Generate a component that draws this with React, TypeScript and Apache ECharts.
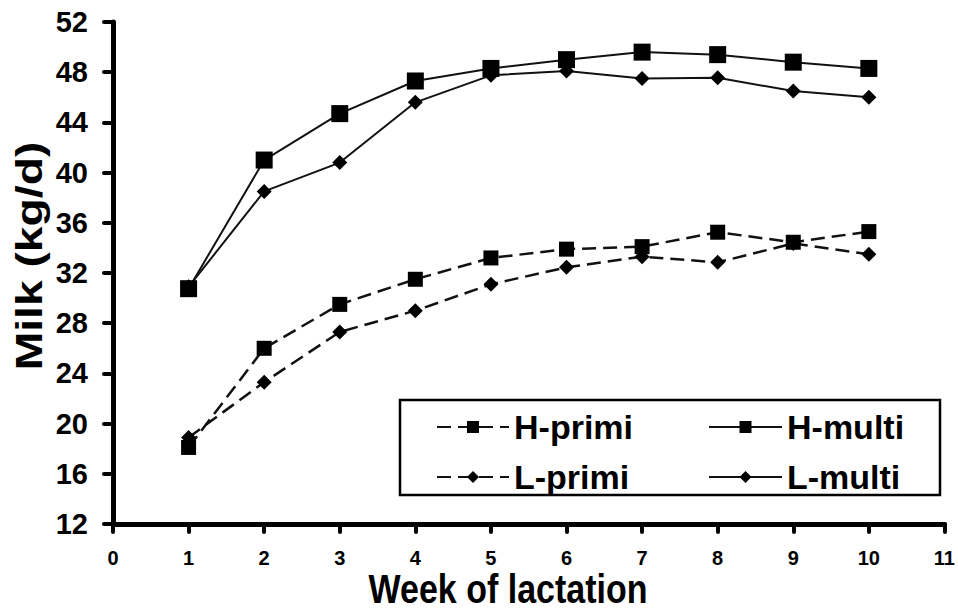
import React, { useEffect, useRef } from "react";
import * as echarts from "echarts";

const weeks = [1, 2, 3, 4, 5, 6, 7, 8, 9, 10];
const hPrimi = [18.1, 26.0, 29.5, 31.5, 33.2, 33.9, 34.1, 35.25, 34.45, 35.3];
const lPrimi = [18.9, 23.3, 27.3, 29.0, 31.1, 32.45, 33.3, 32.85, 34.35, 33.5];
const hMulti = [30.75, 41.0, 44.7, 47.3, 48.3, 49.0, 49.6, 49.4, 48.8, 48.3];
const lMulti = [30.9, 38.5, 40.8, 45.6, 47.75, 48.1, 47.5, 47.55, 46.5, 46.0];
const xTicks = { min: 0, max: 11, interval: 1 };
const yTicks = { min: 12, max: 52, interval: 4 };
const xTitle = "Week of lactation";
const yTitle = "Milk (kg/d)";

const FONT = 'Arial, "Liberation Sans", sans-serif';

const pairs = (vals: number[]) => weeks.map((w, i) => [w, vals[i]]);

export default function App() {
  const ref = useRef<HTMLDivElement>(null);
  useEffect(() => {
    if (!ref.current) return;
    const chart = echarts.init(ref.current, undefined, { renderer: "svg" });
    const legendText = { fontSize: 34, fontWeight: "bold", fontFamily: FONT, color: "#000", lineHeight: 30 };
    chart.setOption({
      animation: false,
      backgroundColor: "#fff",
      grid: { left: 113, right: 13, top: 22, bottom: 92, containLabel: false },
      xAxis: {
        type: "value",
        min: xTicks.min,
        max: xTicks.max,
        interval: xTicks.interval,
        axisLine: { lineStyle: { color: "#000", width: 5 } },
        axisTick: { length: 8, lineStyle: { color: "#000", width: 4, cap: "round" } },
        axisLabel: { margin: 24, fontSize: 20, fontWeight: "bold", fontFamily: FONT, color: "#000" },
        splitLine: { show: false },
      },
      yAxis: {
        type: "value",
        min: yTicks.min,
        max: yTicks.max,
        interval: yTicks.interval,
        axisLine: { lineStyle: { color: "#000", width: 5 } },
        axisTick: { length: 9, lineStyle: { color: "#000", width: 4, cap: "round" } },
        axisLabel: { margin: 25, fontSize: 29, fontWeight: "bold", fontFamily: FONT, color: "#000" },
        splitLine: { show: false },
      },
      legend: [
        {
          data: ["H-primi", "L-primi"],
          orient: "vertical",
          left: 436,
          top: 410,
          padding: 0,
          itemWidth: 72,
          itemHeight: 15,
          itemGap: 16,
          textStyle: legendText,
        },
        {
          data: ["H-multi", "L-multi"],
          orient: "vertical",
          left: 708,
          top: 410,
          padding: 0,
          itemWidth: 73,
          itemHeight: 15,
          itemGap: 16,
          textStyle: legendText,
        },
      ],
      graphic: [
        {
          type: "rect",
          shape: { x: 400, y: 400, width: 540, height: 95 },
          style: { fill: "#fff", stroke: "#000", lineWidth: 2.5 },
          z: 0,
        },
        {
          type: "text",
          x: 29,
          y: 256,
          rotation: Math.PI / 2,
          scaleX: 1.25,
          style: {
            text: yTitle,
            fontSize: 37,
            fontWeight: "bold",
            fontFamily: FONT,
            fill: "#000",
            align: "center",
            verticalAlign: "middle",
          },
        },
        {
          type: "text",
          x: 508,
          y: 589,
          scaleY: 1.2,
          style: {
            text: xTitle,
            fontSize: 34,
            fontWeight: "bold",
            fontFamily: FONT,
            fill: "#000",
            align: "center",
            verticalAlign: "middle",
          },
        },
      ],
      series: [
        {
          name: "H-primi",
          type: "line",
          data: pairs(hPrimi),
          symbol: "rect",
          symbolSize: 15,
          itemStyle: { color: "#000" },
          lineStyle: { color: "#111", width: 2.5, type: [14, 7] },
          z: 3,
        },
        {
          name: "L-primi",
          type: "line",
          data: pairs(lPrimi),
          symbol: "diamond",
          symbolSize: 15,
          itemStyle: { color: "#000" },
          lineStyle: { color: "#111", width: 2.5, type: [14, 7] },
          z: 3,
        },
        {
          name: "H-multi",
          type: "line",
          data: pairs(hMulti),
          symbol: "rect",
          symbolSize: 17,
          itemStyle: { color: "#000" },
          lineStyle: { color: "#111", width: 2 },
          z: 3,
        },
        {
          name: "L-multi",
          type: "line",
          data: pairs(lMulti),
          symbol: "diamond",
          symbolSize: 15,
          itemStyle: { color: "#000" },
          lineStyle: { color: "#111", width: 2 },
          z: 3,
        },
      ],
    });
    return () => chart.dispose();
  }, []);
  return <div ref={ref} style={{ width: 958, height: 616, position: "absolute", left: 0, top: 0 }} />;
}
